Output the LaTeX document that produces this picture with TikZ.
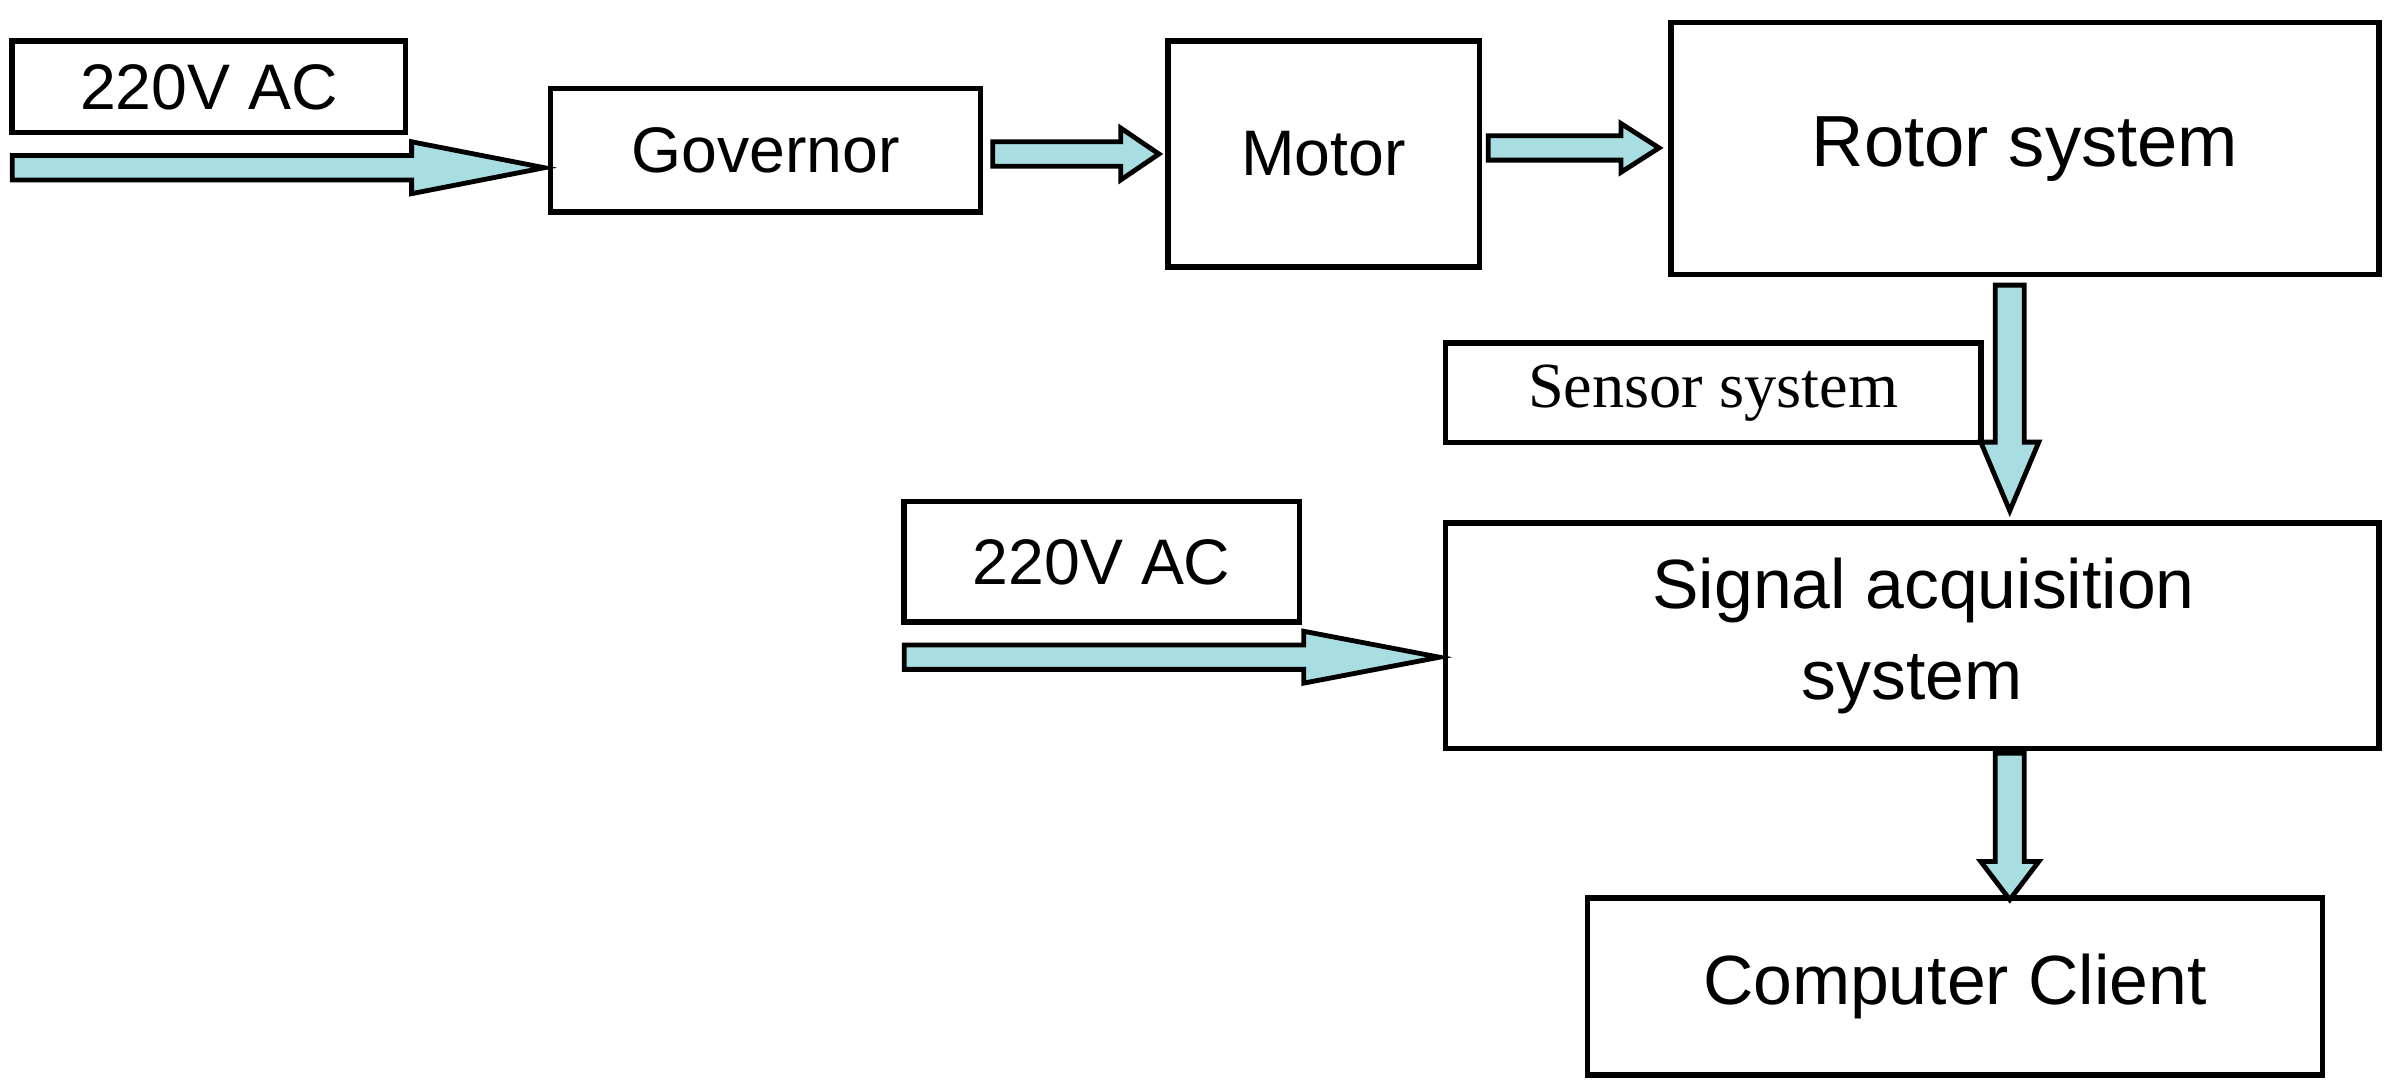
\documentclass[tikz,border=0pt]{standalone}
\usepackage{fontspec}
\setmainfont{Liberation Sans}
\newfontfamily\serifc{Liberation Serif}
\usetikzlibrary{calc}
\definecolor{arr}{HTML}{A8DDE2}
\tikzset{box/.style={draw,line width=1pt,inner sep=0pt,font=\fontsize{12}{14}\selectfont},
 fat/.style={draw,line width=0.9pt,fill=arr,line join=miter}}
\newcommand{\harrow}[4]{% start, end, headlen, headhalf
 \draw[fat] let \p1=(#1),\p2=(#2) in (\x1,\y1+0.08cm) -- (\x2-#3,\y1+0.08cm) -- (\x2-#3,\y1+#4) -- (\x2,\y1) -- (\x2-#3,\y1-#4) -- (\x2-#3,\y1-0.08cm) -- (\x1,\y1-0.08cm) -- cycle;}
\newcommand{\varrow}[4]{%
 \draw[fat] let \p1=(#1),\p2=(#2) in (\x1-0.095cm,\y1) -- (\x1-0.095cm,\y2+#3) -- (\x1-#4,\y2+#3) -- (\x1,\y2) -- (\x1+#4,\y2+#3) -- (\x1+0.095cm,\y2+#3) -- (\x1+0.095cm,\y1) -- cycle;}
\begin{document}
\begin{tikzpicture}[x=0.01cm,y=-0.01cm]
\useasboundingbox (0,0) rectangle (1568,713);
\node[box,minimum width=2.58cm,minimum height=0.6cm] (ac1) at (137,57) {220V AC};
\node[box,minimum width=2.82cm,minimum height=0.81cm] (gov) at (502,98.5) {Governor};
\node[box,minimum width=2.04cm,minimum height=1.48cm] (mot) at (868,101) {Motor};
\node[box,minimum width=4.64cm,minimum height=1.65cm,font=\fontsize{13.5}{15}\selectfont] (rot) at (1328,97.5) {Rotor system};
\node[box,minimum width=3.51cm,minimum height=0.65cm,font=\serifc\fontsize{12}{14}\selectfont] (sen) at (1123.5,257.5) {Sensor system};
\node[box,minimum width=2.59cm,minimum height=0.79cm] (ac2) at (722.5,368.5) {220V AC};
\node[box,minimum width=6.12cm,minimum height=1.48cm,align=center,font=\fontsize{13}{17}\selectfont] (sig) at (1254,417) {\hspace*{0.15cm}Signal acquisition\\system};
\node[box,minimum width=4.82cm,minimum height=1.16cm,font=\fontsize{13}{15}\selectfont] (comp) at (1282,647) {Computer Client};
\coordinate (a1s) at (8,110); \coordinate (a1e) at (357,110);
\coordinate (a2s) at (651,101); \coordinate (a2e) at (760,101);
\coordinate (a3s) at (976,97); \coordinate (a3e) at (1088,97);
\coordinate (a4s) at (1318,187); \coordinate (a4e) at (1318,335);
\coordinate (a5s) at (593,431); \coordinate (a5e) at (944,431);
\coordinate (a6s) at (1318,494); \coordinate (a6e) at (1318,590);
\harrow{a1s}{a1e}{0.87cm}{0.17cm}
\harrow{a2s}{a2e}{0.25cm}{0.17cm}
\harrow{a3s}{a3e}{0.25cm}{0.16cm}
\harrow{a5s}{a5e}{0.89cm}{0.17cm}
\varrow{a4s}{a4e}{0.45cm}{0.19cm}
\varrow{a6s}{a6e}{0.25cm}{0.19cm}
\end{tikzpicture}
\end{document}
